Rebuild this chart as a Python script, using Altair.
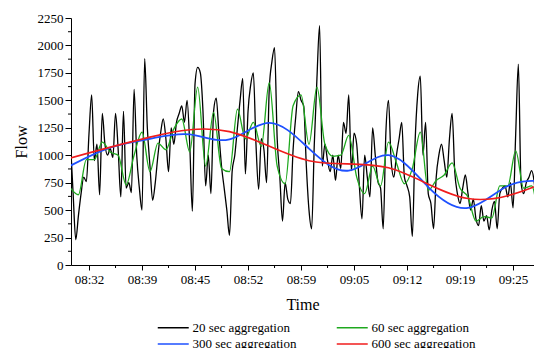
import json
import altair as alt
import pandas as pd

# ---------------- data ----------------
tick_labels = ["08:32", "08:39", "08:45", "08:52", "08:59", "09:05", "09:12", "09:19", "09:25"]
tick_seconds = [0, 400, 800, 1200, 1600, 2000, 2400, 2800, 3200]   # seconds after 08:32:00
minor_x = [200, 600, 1000, 1400, 1800, 2200, 2600, 3000]
y_ticks = [0, 250, 500, 750, 1000, 1250, 1500, 1750, 2000, 2250]
minor_y = [125, 375, 625, 875, 1125, 1375, 1625, 1875, 2125]

series_names = ["20 sec aggregation", "60 sec aggregation",
                "300 sec aggregation", "600 sec aggregation"]
series_colors = ["#000000", "#1ea81e", "#1e50ff", "#f01c1c"]

start_s = -140  # first sample, seconds after 08:32:00

flow20 = [1120, 650, 230, 450, 650, 800, 760, 1200, 1550, 950,
          1100, 640, 1380, 1100, 1000, 1060, 980, 1380, 1050, 620,
          1400, 700, 750, 660, 1600, 1000, 700, 500, 1880, 1250,
          900, 590, 750, 1000, 1200, 1330, 1150, 850, 1250, 1100,
          1300, 1380, 1450, 1300, 1500, 1100, 490, 1650, 1800, 1750,
          1400, 720, 1000, 650, 1400, 1520, 1200, 900, 700, 500,
          270, 850, 1000, 1250, 1500, 1700, 830, 1400, 1640, 1750,
          1100, 690, 1150, 1050, 750, 1600, 1850, 1980, 1150, 800,
          400, 750, 600, 560, 1050, 1350, 1580, 1500, 1450, 900,
          500, 330, 1100, 1700, 2180, 900, 1100, 950, 850, 1000,
          770, 1000, 880, 1300, 1200, 1550, 860, 1200, 1100, 720,
          420, 1000, 800, 620, 1250, 1000, 760, 700, 330, 1200,
          1500, 950, 800, 1000, 1150, 1300, 800, 720, 620, 260,
          1100, 1550, 1720, 1000, 1300, 650, 560, 330, 800, 1000,
          1100, 950, 800, 1150, 1380, 850, 650, 560, 700, 820,
          650, 500, 600, 420, 360, 540, 400, 450, 320, 500,
          580, 330, 650, 700, 720, 620, 750, 520, 1200, 1830,
          750, 650, 750, 800, 860, 750, 480, 300]

flow60 = [700, 640, 960, 960, 1120, 1030, 1000, 730, 1000, 1210,
          850, 1110, 1050, 1240, 1330, 1030, 1620, 900, 1390, 880,
          850, 1420, 1150, 1300, 1080, 1660, 900, 740, 1450, 1550,
          1100, 1620, 1100, 990, 1000, 1180, 800, 650, 900, 720,
          1120, 930, 740, 880, 1210, 680, 770, 820, 930, 700,
          620, 400, 440, 430, 720, 720, 1040, 700, 720, 310]

flow300 = [905, 1070, 1150, 1190, 1145, 1295, 1060, 860, 1000, 710, 520, 720, 760]

flow600 = [975, 1165, 1215, 950, 885, 605, 760]

steps = [20, 60, 300, 600]
values = [flow20, flow60, flow300, flow600]

rows = []
for name, step, vals in zip(series_names, steps, values):
    for i, v in enumerate(vals):
        rows.append({"t": start_s + step * i, "flow": v, "series": name})
df = pd.DataFrame(rows)

FONT = "Liberation Serif"
label_expr = json.dumps(tick_labels) + "[round(datum.value / 400)]"

# the page is only 526px wide inside its margins, so the view stops at 534px
x_scale = alt.Scale(domain=[-136, 3358], nice=False, zero=False)
y_scale = alt.Scale(domain=[0, 2250], nice=False, zero=False)

x_axis = alt.Axis(values=tick_seconds, labelExpr=label_expr, title="Time",
                  grid=False, tickSize=5, labelPadding=3, titlePadding=10,
                  labelFont=FONT, labelFontSize=13, labelColor="#000000",
                  titleFont=FONT, titleFontSize=16, titleFontWeight="normal",
                  titleColor="#000000", domainColor="#000000", tickColor="#000000")
y_axis = alt.Axis(values=y_ticks, format="d", title="Flow", grid=False, tickSize=6,
                  labelPadding=2, titlePadding=8,
                  labelFont=FONT, labelFontSize=13, labelColor="#000000",
                  titleFont=FONT, titleFontSize=16, titleFontWeight="normal",
                  titleColor="#000000", domainColor="#000000", tickColor="#000000")

x_enc = alt.X("t:Q", scale=x_scale, axis=x_axis)
y_enc = alt.Y("flow:Q", scale=y_scale, axis=y_axis)

color_enc = alt.Color(
    "series:N",
    title=None,
    scale=alt.Scale(domain=series_names, range=series_colors),
    legend=alt.Legend(orient="none", legendX=86, legendY=301, columns=2,
                      direction="horizontal", values=series_names,
                      columnPadding=36, rowPadding=0.5,
                      symbolType="M-1,0H3", symbolSize=240,
                      symbolStrokeWidth=1.5, labelOffset=18.5,
                      labelFont=FONT, labelFontSize=13, labelColor="#000000",
                      labelLimit=300),
)

widths = [1.3, 1.3, 1.8, 1.6]
interps = ["monotone", "monotone", "natural", "natural"]

layers = []
for name, w, ip in zip(series_names, widths, interps):
    layers.append(
        alt.Chart(df)
        .transform_filter(alt.datum.series == name)
        .mark_line(strokeWidth=w, interpolate=ip, clip=True)
        .encode(x=x_enc, y=y_enc, color=color_enc)
    )

# minor ticks (share the same fields/axes so the axes merge)
minor_x_df = pd.DataFrame({"t": minor_x})
minor_y_df = pd.DataFrame({"flow": minor_y})
layers.append(
    alt.Chart(minor_x_df).mark_rule(color="#000000", strokeWidth=1)
    .encode(x=x_enc, y=alt.value(247), y2=alt.value(250))
)
layers.append(
    alt.Chart(minor_y_df).mark_rule(color="#000000", strokeWidth=1)
    .encode(y=y_enc, x=alt.value(0), x2=alt.value(-3))
)

chart = (
    alt.layer(*layers)
    .properties(width=463, height=247,
                padding={"left": 63, "top": 10, "right": 0, "bottom": 83},
                autosize=alt.AutoSizeParams(type="none"),
                background="#ffffff")
    .configure_view(strokeOpacity=0)
)

chart.save("out.html", embed_options={"renderer": "svg", "actions": False})
